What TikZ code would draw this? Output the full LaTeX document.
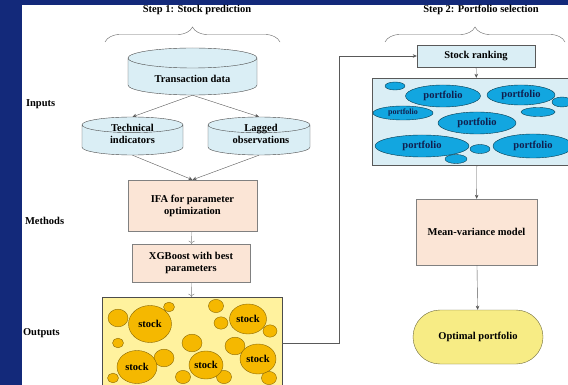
\documentclass[tikz,border=0pt]{standalone}
\usepackage{fontspec}
\setmainfont{Liberation Serif}
\usetikzlibrary{shapes.geometric,positioning,decorations.pathreplacing,arrows.meta}
\definecolor{navy}{HTML}{13297A}
\definecolor{dbfill}{HTML}{DAEEF5}
\definecolor{peach}{HTML}{FBE5D6}
\definecolor{sand}{HTML}{FFF29E}
\definecolor{gold}{HTML}{F5B800}
\definecolor{sky}{HTML}{12A6E0}
\definecolor{pftext}{HTML}{10204F}
\definecolor{lemon}{HTML}{F7EC85}

\begin{document}
\begin{tikzpicture}[x=1pt,y=-1pt,
		font=\fontsize{10.5}{12}\selectfont\bfseries,
		db/.style={cylinder, shape border rotate=90, aspect=0.155, draw=gray!60!black, fill=dbfill, inner sep=0pt, anchor=shape center},
		box/.style={rectangle, draw=gray, fill=peach, align=center, inner sep=0pt},
		blob/.style={ellipse, draw=gold!55!black, fill=gold, inner sep=0pt},
		pf/.style={ellipse, draw=sky!35!black, fill=sky, text=pftext, inner sep=0pt},
		arr/.style={draw=gray!70!black, -{Stealth[length=4pt,width=3.5pt]}},
		thin/.style={draw=gray, -{To[length=3pt]}},
		brace/.style={draw=gray!80!black, decorate, decoration={brace, amplitude=15pt}}]
		% page
		\fill[navy] (0,0) rectangle (568,385);
		\fill[white] (22,5) rectangle (568,385);
		\useasboundingbox (0,0) rectangle (568,385);
		
		% steps
		\node (step1) at (197,10) {Step 1: Stock prediction};
		\node (step2) at (481,10) {Step 2: Portfolio selection};
		\draw[brace] (105,42) -- (280,42);
		\draw[brace] (385,42) -- (565,42);
		
		% rows
		\node[anchor=west] (inputs) at (22.5,104) {Inputs};
		\node[anchor=west] (methods) at (21.5,221) {Methods};
		\node[anchor=west] (outputs) at (19.5,333) {Outputs};
		
		% step 1
		\node[db, text width=129, minimum width=129, minimum height=47] (td) at (192.5,71.5) {};
		\node[db, text width=101, minimum width=101, minimum height=38] (ti) at (132.5,136) {};
		\node[db, text width=102, minimum width=102, minimum height=38] (lo) at (259,136) {};
		\node (tdtext) at (192.5,79) {Transaction data};
		\node[align=center] (titext) at (132.5,134) {Technical\\indicators};
		\node[align=center] (lotext) at (261,134) {Lagged\\observations};
		\node[box, minimum width=129, minimum height=51] (ifa) at (192.5,205.5) {IFA for parameter\\optimization};
		\node[box, minimum width=118, minimum height=38] (xgb) at (191,263) {XGBoost with best\\parameters};
		\node[draw=gray!60!black, fill=sand, minimum width=180, minimum height=92, inner sep=0pt] (stocks) at (192,343) {};
		
		% stocks
		\foreach \x/\y/\r in {118/318/10, 169/307/5.5, 216/306/7.5, 221/323/7, 270/331/7,
			118/343/5.5, 192/343/10, 235/346/10, 164/358/10, 113/378/5.5, 183/377/7.5,
			224/377/7.5, 269/378/7.5}
		\filldraw[draw=gold!55!black, fill=gold] (\x,\y) ellipse [x radius=\r, y radius=0.88*\r];
		\node[blob, minimum width=43, minimum height=37] (s1) at (150,324) {stock};
		\node[blob, minimum width=37, minimum height=30] (s2) at (248,319) {stock};
		\node[blob, minimum width=40, minimum height=33] (s3) at (137,367) {stock};
		\node[blob, minimum width=34, minimum height=28] (s4) at (206,365) {stock};
		\node[blob, minimum width=36, minimum height=30] (s5) at (258,359) {stock};
		
		% step 2
		\node[draw=gray!70!black, fill=dbfill, minimum width=118, minimum height=22, inner sep=0pt] (rank) at (476,56) {Stock ranking};
		\node[draw=gray!70!black, fill=dbfill, minimum width=210, minimum height=87, inner sep=0pt] (pool) at (477,121.5) {};
		\foreach \x/\y/\rx/\ry in {395/86/10/4, 562/102/10/5, 538/112/17/4.5, 480/149/10/4.5, 456/159/11/4.5}
		\filldraw[draw=sky!35!black, fill=sky] (\x,\y) ellipse [x radius=\rx, y radius=\ry];
		\node[pf, minimum width=75, minimum height=22] (p1) at (443,96) {portfolio};
		\node[pf, minimum width=68, minimum height=20] (p2) at (521,95) {portfolio};
		\node[pf, minimum width=60, minimum height=14, font=\fontsize{8}{9}\selectfont\bfseries] (p3) at (403,113) {portfolio};
		\node[pf, minimum width=78, minimum height=22] (p4) at (477,123) {portfolio};
		\node[pf, minimum width=94, minimum height=22] (p5) at (422,146) {portfolio};
		\node[pf, minimum width=80, minimum height=24] (p6) at (533,146) {portfolio};
		\node[box, minimum width=121, minimum height=66] (mv) at (476.5,232) {Mean-variance model};
		\node[draw=lemon!45!black, fill=lemon, rounded corners=27, minimum width=130, minimum height=54, inner sep=0pt] (opt) at (478,337) {Optimal portfolio};
		
		% connectors
		\coordinate (turn) at (339,343);
		\draw[arr] (td.south) -- (ti.north);
		\draw[arr] (td.south) -- (lo.north);
		\draw[arr] (ti.south) -- (ifa.north);
		\draw[arr] (lo.south) -- (ifa.north);
		\draw[thin] (ifa) -- (xgb);
		\draw[thin] (xgb) -- (stocks);
		\draw[arr] (stocks.east) -- (turn) |- (rank.west);
		\draw[arr] (rank) -- (pool);
		\draw[arr] (pool) -- (mv);
		\draw[arr] (mv) -- (opt);
	\end{tikzpicture}
\end{document}
